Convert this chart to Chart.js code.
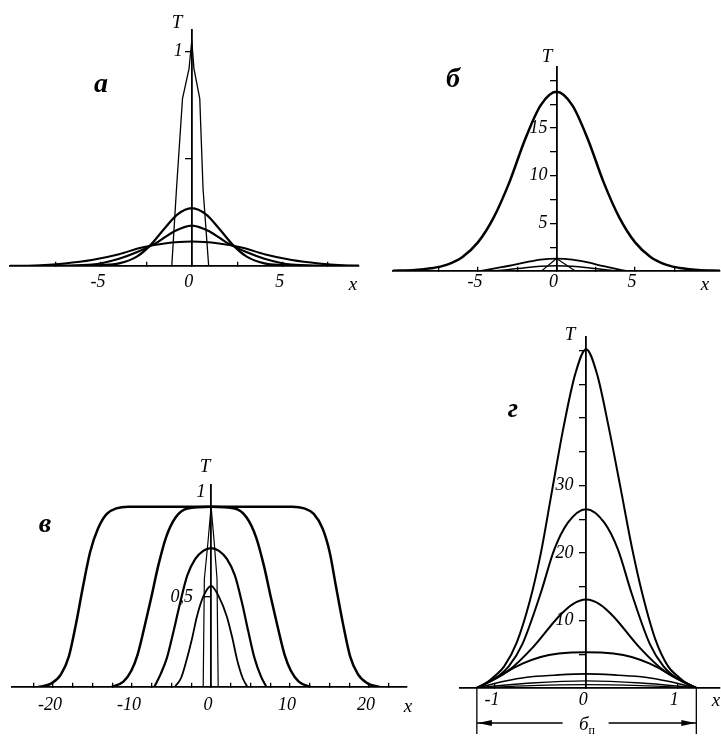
<!DOCTYPE html>
<html><head><meta charset="utf-8">
<script src="https://cdn.jsdelivr.net/npm/chart.js@4.4.0/dist/chart.umd.min.js"></script>
<style>
html,body{margin:0;padding:0;background:#fff;}
#wrap{position:relative;width:721px;height:744px;overflow:hidden;background:#fff}
canvas{position:absolute;left:0;top:0}
.t{position:absolute;font-family:"Liberation Serif",serif;font-style:italic;color:#000;line-height:1;white-space:nowrap;transform:translate(-50%,-50%)}
.p{font-size:28px;font-weight:bold}
.s{font-size:19px}
</style></head>
<body><div id="wrap">
<canvas id="ca" width="721" height="744"></canvas>
<canvas id="cb" width="721" height="744"></canvas>
<canvas id="cv" width="721" height="744"></canvas>
<canvas id="cg" width="721" height="744"></canvas>
<div class="t p" style="left:101px;top:83px">а</div>
<div class="t s" style="left:177px;top:21px">T</div>
<div class="t s" style="left:353px;top:283px">x</div>
<div class="t p" style="left:453px;top:78px">б</div>
<div class="t s" style="left:547px;top:55px">T</div>
<div class="t s" style="left:705px;top:283px">x</div>
<div class="t p" style="left:45px;top:523px">в</div>
<div class="t s" style="left:205px;top:465px">T</div>
<div class="t s" style="left:201px;top:490px">1</div>
<div class="t s" style="left:408px;top:705px">x</div>
<div class="t p" style="left:513px;top:408px">г</div>
<div class="t s" style="left:570px;top:333px">T</div>
<div class="t s" style="left:716px;top:699px">x</div>
<div class="t s" style="left:587px;top:725px">б<sub style="font-size:12px;font-style:normal">п</sub></div>
</div>
<script>
// ---------- Panel а ----------
const aXspike = [-1.1,-0.84,-0.51,-0.15,0,0.12,0.44,0.62,0.93];
const aTspike = [0,0.36,0.78,0.92,1.05,0.92,0.78,0.36,0];
const aX1 = [-7,-5,-4,-3,-2.3,-1.5,-0.8,0,0.8,1.5,2.3,3,4,5,7];
const aT1 = [0,0.004,0.012,0.045,0.095,0.175,0.24,0.27,0.24,0.175,0.095,0.045,0.012,0.004,0];
const aX2 = [-9,-7,-5.5,-4,-3,-1.9,-1,0,1,1.9,3,4,5.5,7,9];
const aT2 = [0,0.002,0.006,0.034,0.065,0.11,0.16,0.188,0.16,0.11,0.065,0.034,0.006,0.002,0];
const aX3 = [-10,-8.3,-7,-5.5,-4,-2.8,-1.5,0,1.5,2.8,4,5.5,7,8.3,9.2];
const aT3 = [0.001,0.004,0.012,0.028,0.055,0.085,0.105,0.114,0.105,0.085,0.055,0.028,0.012,0.004,0.002];
const aXTicks = [-7.5,-5,-2.5,0,2.5,5,7.5];
const aXLabels = ['','-5','','0','','5',''];
const aYTicks = [0.5,1];
const aYLabels = ['','1\u2002'];

// ---------- Panel б ----------
const bX1 = [-10.4,-9,-8,-7,-6,-5,-4,-3,-2,-1,0,1,2,3,4,5,6,7,8,9,10.4];
const bT1 = [0.02,0.1,0.28,0.65,1.45,3.0,5.6,9.3,13.8,17.4,18.8,17.4,13.8,9.3,5.6,3.0,1.45,0.65,0.28,0.1,0.02];
const bX2 = [-4.8,-4,-3,-2,-1,0,1,2,3,4,4.5];
const bT2 = [0,0.25,0.55,0.9,1.2,1.3,1.2,0.9,0.5,0.15,0];
const bX3 = [-4,-3,-2,-1,0,1,2,3,3.8];
const bT3 = [0,0.15,0.35,0.5,0.55,0.5,0.35,0.15,0];
const bX4 = [-0.95,0,1.2];
const bT4 = [0,1.3,0];
const bXTicks = [-7.5,-5,-2.5,0,2.5,5,7.5];
const bXLabels = ['','-5','','0','','5',''];
const bYTicks = [2.5,5,7.5,10,12.5,15,17.5,20];
const bYLabels = ['','5\u2002','','10\u2002','','15\u2002','',''];

// ---------- Panel в ----------
const vX1 = [-21.9,-20.2,-19.0,-18.0,-17.1,-16.2,-15.3,-14.3,-13.2,-12.0,-10.5,0,10.3,11.8,13.0,14.1,15.0,15.8,16.7,17.6,18.6,19.8,21.3];
const vT1 = [0,0.02,0.07,0.17,0.35,0.56,0.75,0.88,0.96,0.99,1,1,1,0.99,0.96,0.88,0.75,0.56,0.35,0.17,0.07,0.02,0];
const vX2 = [-12.6,-11.1,-10.1,-9.3,-8.5,-7.55,-6.7,-5.7,-4.5,-3,0,3,4.5,5.7,6.7,7.55,8.5,9.3,10.1,11.1,12.6];
const vT2 = [0,0.03,0.09,0.18,0.32,0.5,0.67,0.83,0.94,0.99,1,0.99,0.94,0.83,0.67,0.5,0.32,0.18,0.09,0.03,0];
const vX3 = [-7.2,-6.4,-5.6,-4.8,-3.9,-3,-2,-1,0,1,2,3,3.9,4.7,5.5,6.3,7.0];
const vT3 = [0,0.07,0.16,0.3,0.47,0.62,0.71,0.755,0.77,0.755,0.71,0.62,0.47,0.31,0.16,0.06,0];
const vX4 = [-4.6,-3.8,-3.1,-2.4,-1.8,-1.0,0,1.0,2.0,2.7,3.3,4.0,4.6];
const vT4 = [0,0.05,0.15,0.27,0.39,0.5,0.56,0.5,0.39,0.27,0.15,0.05,0];
const vXspike = [-1,-0.85,-0.4,0,0.4,0.75,0.9];
const vTspike = [0,0.6,0.8,1.0,0.8,0.6,0];
const vXTicks = [-22.5,-20,-17.5,-15,-12.5,-10,-7.5,-5,-2.5,0,2.5,5,7.5,10,12.5,15,17.5,20,22.5];
const vXLabels = ['','-20','','','','-10','','','','0','','','','10','','','','20',''];
const vYTicks = [0.5,1];
const vYLabels = ['0,5\u2003',''];

// ---------- Panel г ----------
const gX1 = [-1.2,-1.1,-1.0,-0.9,-0.76,-0.62,-0.5,-0.38,-0.25,-0.12,0,0.12,0.25,0.38,0.5,0.62,0.76,0.9,1.0,1.1,1.21];
const gT1 = [0,0.7,1.8,3.2,6.8,12.8,19.8,28.8,38.5,46.5,50.2,46.5,38.5,29.5,21.0,13.8,7.2,3.2,1.8,0.7,0];
const gX2 = [-1.2,-1.0,-0.85,-0.7,-0.5,-0.35,-0.2,0,0.2,0.35,0.5,0.7,0.85,1.0,1.21];
const gT2 = [0,1.4,3.2,6.5,14,20.5,24.5,26.5,24.5,20.5,14,6.5,3.2,1.4,0];
const gX3 = [-1.2,-0.86,-0.58,-0.3,-0.15,0,0.15,0.3,0.58,0.86,1.21];
const gT3 = [0,2.5,6.1,10.6,12.4,13.1,12.4,10.6,6.1,2.5,0];
const gX4 = [-1.2,-1.05,-0.9,-0.7,-0.5,-0.3,0,0.3,0.5,0.7,0.9,1.05,1.21];
const gT4 = [0,1.1,2.2,3.6,4.6,5.1,5.3,5.1,4.6,3.6,2.2,1.1,0];
const gX5 = [-1.2,-0.9,-0.65,-0.35,0,0.35,0.65,0.9,1.21];
const gT5 = [0,1.0,1.6,1.9,2.1,1.9,1.6,1.0,0];
const gX6 = [-1.2,-1.0,-0.6,0,0.6,1.0,1.21];
const gT6 = [0,0.3,0.75,1.05,0.75,0.3,0];
const gX7 = [-1.2,-0.6,0,0.6,1.21];
const gT7 = [0,0.35,0.5,0.35,0];
const gXTicks = [-1,0,1];
const gXLabels = ['-1','0','1'];
const gYTicks = [5,10,15,20,25,30,35,40,45,50];
const gYLabels = ['','10\u2002\u2009','','20\u2002\u2009','','30\u2002\u2009','','','',''];
const gBoundsX = [-1.2,1.21];

const tickFont = {family:'"Liberation Serif", serif', style:'italic', size:18};

function series(xs, ys, w, sharp) {
  return {
    data: xs.map((x,i)=>({x:x, y:ys[i]})),
    borderColor:'#000', borderWidth:w, pointRadius:0, fill:false,
    cubicInterpolationMode: sharp ? 'default' : 'monotone',
    tension: 0
  };
}

function makeChart(id, p) {
  return new Chart(document.getElementById(id), {
    type:'line',
    data:{datasets:p.series},
    options:{
      responsive:false, animation:false, events:[],
      layout:{padding:p.pad},
      plugins:{legend:{display:false}, tooltip:{enabled:false}},
      scales:{
        x:{type:'linear', min:p.xMin, max:p.xMax, position:{y:0},
          afterBuildTicks: sc => { sc.ticks = p.xTicks.map(v=>({value:v})); },
          grid:{drawOnChartArea:false, drawTicks:true, tickLength:-5, color:'#000', lineWidth:1.3},
          border:{display:true, color:'#000', width:1.8},
          ticks:{font:tickFont, color:'#000', padding:p.xLabelPad, maxRotation:0, autoSkip:false, labelOffset:-3,
            callback:(v,i)=>p.xLabels[i]}
        },
        y:{type:'linear', min:0, max:p.yMax, position:{x:0},
          afterBuildTicks: sc => { sc.ticks = p.yTicks.map(v=>({value:v})); },
          grid:{drawOnChartArea:false, drawTicks:true, tickLength:6, color:'#000', lineWidth:1.3},
          border:{display:true, color:'#000', width:1.8},
          ticks:{font:tickFont, color:'#000', padding:4, autoSkip:false,
            callback:(v,i)=>p.yLabels[i]}
        }
      }
    },
    plugins:p.plugins||[]
  });
}

makeChart('ca', {
  xMin:-10, xMax:9.2, yMax:1.1,
  pad:{left:10, right:362, top:30, bottom:478},
  xTicks:aXTicks, xLabels:aXLabels, yTicks:aYTicks, yLabels:aYLabels, xLabelPad:10,
  series:[series(aXspike,aTspike,1.3,true), series(aX1,aT1,2.2), series(aX2,aT2,2.2), series(aX3,aT3,2.0)]
});

makeChart('cb', {
  xMin:-10.4, xMax:10.4, yMax:21.4,
  pad:{left:393, right:1, top:67, bottom:473},
  xTicks:bXTicks, xLabels:bXLabels, yTicks:bYTicks, yLabels:bYLabels, xLabelPad:5,
  series:[series(bX1,bT1,2.5), series(bX2,bT2,1.8), series(bX3,bT3,1.5), series(bX4,bT4,1.2,true)]
});

makeChart('cv', {
  xMin:-25.2, xMax:24.8, yMax:1.12,
  pad:{left:12, right:314, top:485, bottom:57},
  xTicks:vXTicks, xLabels:vXLabels, yTicks:vYTicks, yLabels:vYLabels, xLabelPad:12,
  series:[series(vX1,vT1,2.5), series(vX2,vT2,2.5), series(vX3,vT3,2.2), series(vX4,vT4,1.8), series(vXspike,vTspike,1.2,true)]
});

const gSpan = {
  id:'gspan',
  afterDraw(chart){
    const ctx = chart.ctx, xs = chart.scales.x, ys = chart.scales.y;
    const y0 = ys.getPixelForValue(0);
    const xl = xs.getPixelForValue(gBoundsX[0]), xr = xs.getPixelForValue(gBoundsX[1]);
    const ya = y0 + 35, xm = (xl + xr) / 2;
    ctx.save();
    ctx.strokeStyle = '#000'; ctx.fillStyle = '#000'; ctx.lineWidth = 1.3;
    ctx.beginPath();
    ctx.moveTo(xl, y0); ctx.lineTo(xl, y0 + 46);
    ctx.moveTo(xr, y0); ctx.lineTo(xr, y0 + 46);
    ctx.moveTo(xl, ya); ctx.lineTo(xm - 24, ya);
    ctx.moveTo(xm + 22, ya); ctx.lineTo(xr, ya);
    ctx.stroke();
    ctx.beginPath();
    ctx.moveTo(xl + 1, ya); ctx.lineTo(xl + 15, ya - 3); ctx.lineTo(xl + 15, ya + 3); ctx.closePath();
    ctx.moveTo(xr - 1, ya); ctx.lineTo(xr - 15, ya - 3); ctx.lineTo(xr - 15, ya + 3); ctx.closePath();
    ctx.fill();
    ctx.restore();
  }
};

makeChart('cg', {
  xMin:-1.385, xMax:1.47, yMax:52,
  pad:{left:460, right:1, top:337, bottom:56},
  xTicks:gXTicks, xLabels:gXLabels, yTicks:gYTicks, yLabels:gYLabels, xLabelPad:6,
  series:[series(gX1,gT1,2.0), series(gX2,gT2,2.0), series(gX3,gT3,2.0), series(gX4,gT4,2.0), series(gX5,gT5,1.6), series(gX6,gT6,1.4), series(gX7,gT7,1.2)],
  plugins:[gSpan]
});
</script>
</body></html>
